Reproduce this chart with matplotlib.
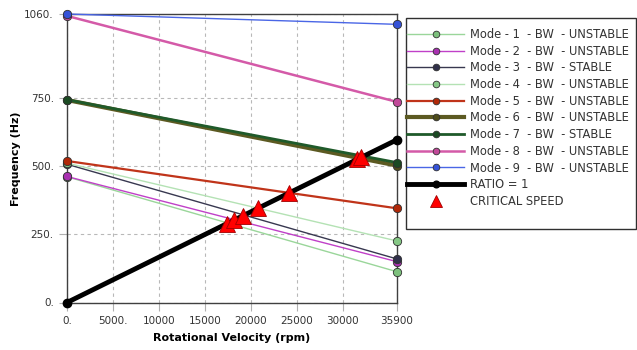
import matplotlib.pyplot as plt
from matplotlib.patches import Rectangle

# Campbell diagram data
speeds = [0, 35900]
mode_labels = [
    "Mode - 1  - BW  - UNSTABLE",
    "Mode - 2  - BW  - UNSTABLE",
    "Mode - 3  - BW  - STABLE",
    "Mode - 4  - BW  - UNSTABLE",
    "Mode - 5  - BW  - UNSTABLE",
    "Mode - 6  - BW  - UNSTABLE",
    "Mode - 7  - BW  - STABLE",
    "Mode - 8  - BW  - UNSTABLE",
    "Mode - 9  - BW  - UNSTABLE",
]
mode_start = [462, 463, 508, 512, 520, 744, 745, 1053, 1060]
mode_end = [113, 150, 160, 226, 346, 503, 514, 737, 1022]
ratio_freq = [0, 598]
crit_speed = [17400, 18150, 19150, 20800, 24100, 31600, 32000]
crit_freq = [290, 302, 319, 347, 402, 527, 533]

x_ticks = [0, 5000, 10000, 15000, 20000, 25000, 30000, 35900]
x_tick_labels = ["0.", "5000.", "10000", "15000", "20000", "25000", "30000", "35900"]
y_ticks = [0, 250, 500, 750, 1060]
y_tick_labels = ["0.", "250.", "500.", "750.", "1060."]

# styles per mode: line colour, marker colour, line width
line_colors = ['#9ad69a', '#c040c8', '#383850', '#b4e2b4', '#c0341a',
               '#5c5a22', '#1f5a2a', '#d45aa8', '#4a66e6']
marker_colors = ['#7cc07c', '#a830b0', '#30304a', '#86c886', '#b02808',
                 '#4e4c1a', '#1a4a22', '#c04898', '#3552d8']
line_widths = [1.0, 1.0, 1.0, 1.0, 1.6, 3.0, 2.0, 1.8, 1.0]

fig = plt.figure(figsize=(6.37, 3.5), dpi=100)
W, H = 637, 350
ax = fig.add_axes([67 / W, (H - 302.5) / H, 330 / W, 288.5 / H])

for i in range(len(mode_labels)):
    ax.plot(speeds, [mode_start[i], mode_end[i]], color=line_colors[i],
            lw=line_widths[i], marker='o', markersize=6,
            markerfacecolor=marker_colors[i], markeredgecolor='#303030',
            markeredgewidth=0.6, label=mode_labels[i], zorder=3, clip_on=False)

ax.plot(speeds, ratio_freq, color='black', lw=3.5, marker='o', markersize=6,
        markerfacecolor='black', label='RATIO = 1', zorder=4, clip_on=False)

ax.plot(crit_speed, crit_freq, ls='none', marker='^', markersize=11,
        markerfacecolor='#ff0000', markeredgecolor='#a00000',
        markeredgewidth=0.6, label='CRITICAL SPEED', zorder=5)

ax.set_xlim(0, 35900)
ax.set_ylim(0, 1060)
ax.set_xticks(x_ticks)
ax.set_xticklabels(x_tick_labels)
ax.set_yticks(y_ticks)
ax.set_yticklabels(y_tick_labels)
ax.tick_params(labelsize=7.5, colors='#333333', length=6, width=0.8,
               direction='out')
ax.tick_params(axis='x', color='#b0b0b0')
ax.tick_params(axis='y', color='#b0b0b0')
ax.grid(True, ls=(0, (3, 3)), color='#b8b8b8', lw=0.8)
for side in ax.spines.values():
    side.set_color('#404040')
    side.set_linewidth(1.0)

ax.set_xlabel('Rotational Velocity (rpm)', fontsize=8, fontweight='bold',
              labelpad=5)
ax.set_ylabel('Frequency (Hz)', fontsize=8, fontweight='bold', labelpad=2)

# legend without its own frame, box drawn separately
leg = fig.legend(loc='upper left', bbox_to_anchor=(407 / W, 1 - 28 / H),
                 fontsize=8.3, frameon=False, handlelength=4.95,
                 labelspacing=0.32, borderpad=0, handletextpad=0.55,
                 borderaxespad=0, numpoints=1, markerscale=0.8)
for t in leg.get_texts():
    t.set_color('#333333')
fig.patches.append(Rectangle((406 / W, 1 - 229 / H), 230 / W, 211 / H,
                             transform=fig.transFigure, fill=False,
                             edgecolor='#303030', lw=1.0))

fig.savefig('out.png', dpi=100)
